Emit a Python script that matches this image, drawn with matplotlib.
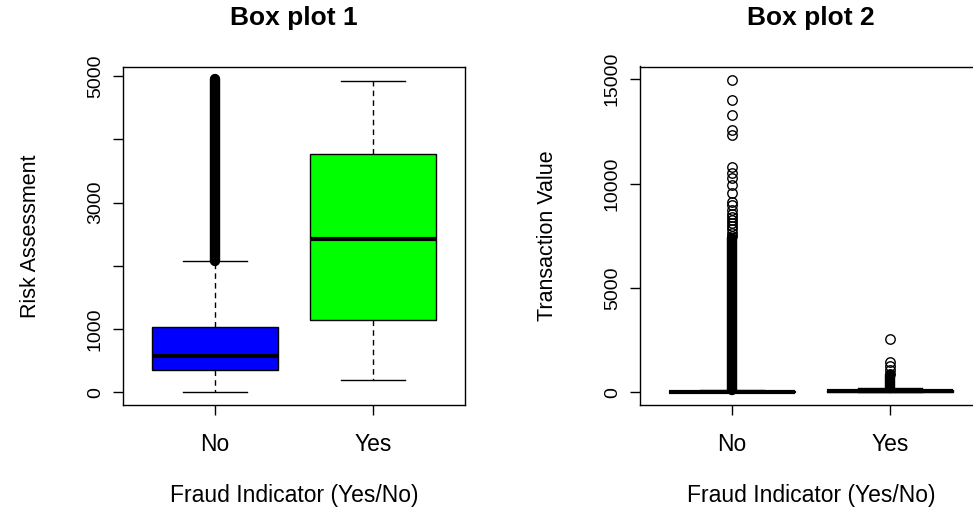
#boxplots of risk assessment and transaction value by fraud indicator

import numpy as np
import matplotlib.pyplot as plt

plt.rcParams['font.family'] = ['Liberation Sans', 'DejaVu Sans']

#categories
groups = ['No', 'Yes']

#box plot 1: risk assessment (whislo, q1, median, q3, whishi)
risk_no = [0, 347, 579, 1030, 2082]
risk_yes = [200, 1151, 2418, 3765, 4921]
risk_no_dense = [2082, 4950]   #solid run of outliers
risk_yes_dense = []

#box plot 2: transaction value
tv_no = [0, 10, 30, 60, 96]
tv_yes = [0, 20, 60, 110, 206]
tv_no_fliers = [14960, 14000, 13290, 12570, 12330, 10810, 10490, 10250, 9930,
                9530, 9130, 8970, 8730, 8560, 8400, 8250, 8100, 7950, 7800, 7650, 7500]
tv_yes_fliers = [2580, 1450, 1290, 1060, 900]
tv_no_dense = [110, 7400]
tv_yes_dense = [210, 820]


def make_stats(vals, fliers):
    lo, q1, med, q3, hi = vals
    return dict(whislo=lo, q1=q1, med=med, q3=q3, whishi=hi, fliers=fliers)


def draw_panel(ax, stats, dense, colors, title, ylabel, ylim, yticks, ylabels):
    bp = ax.bxp(stats, positions=[1, 2], widths=0.8, patch_artist=True,
                boxprops=dict(edgecolor='black', linewidth=1),
                medianprops=dict(color='black', linewidth=3),
                whiskerprops=dict(color='black', linewidth=1, linestyle=(0, (4, 3))),
                capprops=dict(color='black', linewidth=1),
                flierprops=dict(marker='o', markerfacecolor='none',
                                markeredgecolor='black', markersize=6.8,
                                markeredgewidth=1))
    for patch, c in zip(bp['boxes'], colors):
        patch.set_facecolor(c)
    # dense outliers overlap into a solid column
    for pos, band in zip([1, 2], dense):
        if band:
            ax.plot([pos, pos], band, color='black', linewidth=7.5,
                    solid_capstyle='round', zorder=3)
    ax.set_xlim(0.42, 2.58)
    ax.set_ylim(*ylim)
    ax.set_xticks([1, 2])
    ax.set_xticklabels(groups, fontsize=16.5)
    ax.set_yticks(yticks)
    ax.set_yticklabels(ylabels, fontsize=14, rotation=90, va='center')
    ax.tick_params(direction='out', length=7, width=1, pad=7)
    ax.tick_params(axis='x', pad=13)
    ax.set_title(title, fontsize=19, fontweight='bold', pad=30)
    ax.set_xlabel('Fraud Indicator (Yes/No)', fontsize=16.5, labelpad=20)
    ax.set_ylabel(ylabel, fontsize=15.5, labelpad=33)
    for s in ax.spines.values():
        s.set_linewidth(1)


fig = plt.figure(figsize=(9.73, 5.07), dpi=100)
W, H = 973, 507
ax1 = fig.add_axes([123.4 / W, 1 - 405 / H, 341.2 / W, 338.5 / H])
ax2 = fig.add_axes([640.4 / W, 1 - 405 / H, 341.2 / W, 338.5 / H])

draw_panel(ax1, [make_stats(risk_no, []), make_stats(risk_yes, [])],
           [risk_no_dense, risk_yes_dense], ['#0000FF', '#00FF00'],
           'Box plot 1', 'Risk Assessment', (-198, 5148),
           [0, 1000, 2000, 3000, 4000, 5000], ['0', '1000', '', '3000', '', '5000'])

draw_panel(ax2, [make_stats(tv_no, tv_no_fliers), make_stats(tv_yes, tv_yes_fliers)],
           [tv_no_dense, tv_yes_dense], ['white', 'white'],
           'Box plot 2', 'Transaction Value', (-600, 15600),
           [0, 5000, 10000, 15000], ['0', '5000', '10000', '15000'])

plt.savefig('out.png', dpi=100)
